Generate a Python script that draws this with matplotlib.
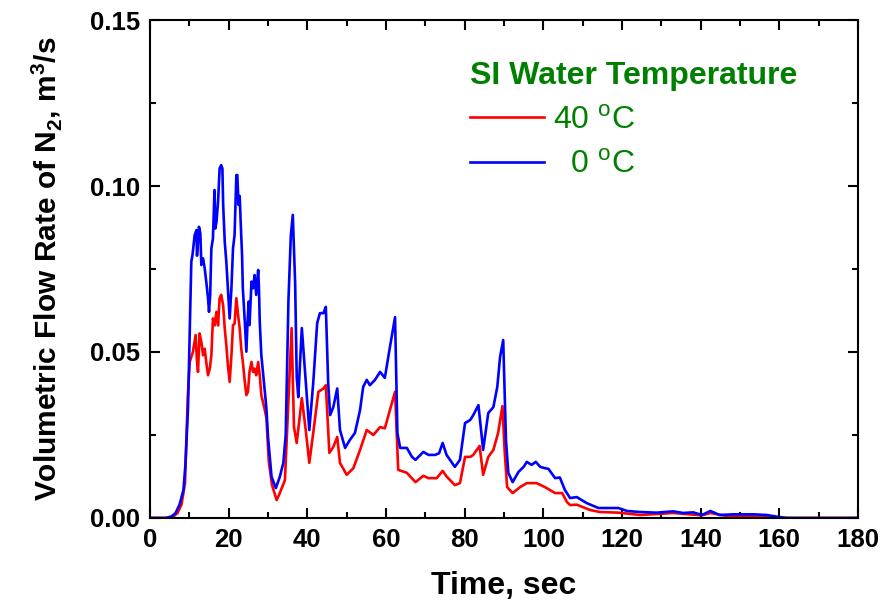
import matplotlib
matplotlib.use('Agg')
import matplotlib.pyplot as plt
from matplotlib.ticker import MultipleLocator, FormatStrFormatter

plt.rcParams['font.family'] = ['Liberation Sans', 'DejaVu Sans']
plt.rcParams['mathtext.fontset'] = 'custom'
plt.rcParams['mathtext.rm'] = 'Liberation Sans'
plt.rcParams['mathtext.bf'] = 'Liberation Sans:bold'

# N2 flow rate, SI water at 0 C (blue)
time_0c = [
    0, 4.0, 5.5, 6.5, 7.5, 8.5, 9.0, 9.66, 10.5, 10.8,
    11.35, 11.8, 11.95, 12.45, 12.8, 13.05, 13.5, 13.9, 14.3, 14.75,
    15.0, 15.3, 15.6, 16.0, 16.4, 16.6, 16.9, 17.3, 17.7, 18.1,
    18.4, 18.6, 19.0, 19.4, 19.8, 20.25, 20.7, 21.1, 21.5, 21.95,
    22.2, 22.5, 22.8, 23.05, 23.4, 23.6, 24.1, 24.5, 24.8, 25.1,
    25.3, 25.8, 26.2, 26.6, 27.0, 27.5, 27.7, 27.9, 28.3, 28.7,
    29.1, 29.6, 30.0, 30.9, 32.0, 33.0, 33.9, 34.5, 35.2, 35.8,
    36.3, 36.9, 37.3, 37.7, 38.6, 39.2, 40.5, 41.5, 42.5, 43.2,
    44.1, 44.7, 45.3, 45.8, 46.6, 47.6, 48.3, 49.6, 50.8, 52.1,
    53.4, 54.2, 55.1, 55.9, 57.2, 58.5, 59.7, 61.0, 62.3, 62.9,
    63.6, 65.3, 66.6, 67.5, 69.5, 70.8, 72.5, 73.5, 74.4, 75.4,
    77.5, 78.8, 80.1, 81.4, 82.2, 83.5, 84.7, 86.0, 87.3, 88.3,
    89.0, 89.8, 90.5, 91.1, 92.2, 93.7, 95.0, 95.8, 97.0, 98.1,
    99.2, 100.4, 101.3, 103.0, 104.2, 105.5, 106.8, 108.5, 111.0, 114.0,
    117.0, 119.1, 121.3, 124.6, 128.8, 133.0, 135.6, 138.1, 140.3, 142.5,
    144.8, 148.3, 153.4, 156.8, 159.3, 162.0, 180,
]
flow_0c = [
    0, 0, 0.0005, 0.0015, 0.004, 0.0084, 0.016, 0.033, 0.0772, 0.0792,
    0.0852, 0.0867, 0.079, 0.0877, 0.0857, 0.0762, 0.0782, 0.0752, 0.0712, 0.0662,
    0.0621, 0.0672, 0.0812, 0.0842, 0.0988, 0.0872, 0.0892, 0.0953, 0.1053, 0.1063,
    0.1053, 0.0943, 0.0832, 0.0772, 0.0692, 0.0601, 0.0692, 0.0812, 0.0852, 0.1033,
    0.1033, 0.0943, 0.097, 0.0892, 0.0792, 0.0692, 0.0591, 0.0501, 0.0591, 0.0652,
    0.0581, 0.0712, 0.0692, 0.0732, 0.0672, 0.0747, 0.0692, 0.0591, 0.0491, 0.0441,
    0.039, 0.033, 0.0244, 0.0124, 0.009, 0.0124, 0.0166, 0.025, 0.0657, 0.085,
    0.0913, 0.0708, 0.0425, 0.0364, 0.0572, 0.0476, 0.0265, 0.0407, 0.0587, 0.0617,
    0.0617, 0.0636, 0.0407, 0.031, 0.0334, 0.039, 0.0265, 0.0211, 0.0235, 0.0256,
    0.0325, 0.0395, 0.0416, 0.040, 0.0416, 0.044, 0.0422, 0.0515, 0.0605, 0.0256,
    0.0211, 0.0211, 0.0184, 0.0175, 0.0199, 0.019, 0.019, 0.0195, 0.0226, 0.019,
    0.0154, 0.0175, 0.0286, 0.0295, 0.031, 0.034, 0.0205, 0.0316, 0.0334, 0.0395,
    0.0485, 0.0536, 0.0235, 0.0136, 0.0108, 0.0139, 0.0154, 0.0169, 0.0160, 0.0169,
    0.0154, 0.015, 0.0148, 0.012, 0.0122, 0.0084, 0.006, 0.0063, 0.0045, 0.003,
    0.003, 0.003, 0.0021, 0.0018, 0.0016, 0.002, 0.0015, 0.0017, 0.0009, 0.0021,
    0.0009, 0.0011, 0.0011, 0.0009, 0.0004, 0.0, 0.0,
]

# N2 flow rate, SI water at 40 C (red)
time_40c = [
    0, 4.5, 6.0, 7.0, 8.0, 8.9, 9.2, 9.6, 10.1, 10.9,
    11.6, 11.9, 12.2, 12.6, 13.05, 13.5, 13.9, 14.3, 14.75, 15.2,
    15.6, 16.0, 16.4, 16.9, 17.3, 17.7, 18.1, 18.6, 19.0, 19.4,
    19.8, 20.25, 20.7, 21.1, 21.5, 21.95, 22.4, 22.8, 23.2, 23.6,
    24.1, 24.5, 24.9, 25.3, 25.8, 26.2, 26.6, 27.0, 27.5, 27.9,
    28.3, 28.7, 29.1, 29.6, 30.2, 31.0, 32.2, 33.0, 34.3, 35.2,
    36.0, 36.6, 37.3, 38.6, 39.5, 40.5, 41.5, 42.8, 44.1, 44.7,
    45.6, 46.6, 47.6, 48.3, 50.0, 51.7, 53.4, 55.1, 56.8, 58.5,
    59.7, 61.0, 62.3, 63.1, 65.3, 67.5, 69.5, 70.8, 72.9, 74.4,
    75.4, 77.5, 78.8, 80.1, 81.4, 82.2, 83.8, 84.7, 86.0, 87.3,
    88.5, 89.6, 90.2, 90.8, 92.2, 94.1, 95.8, 98.3, 100.4, 103.0,
    104.8, 106.0, 106.8, 108.5, 111.9, 114.4, 119.1, 124.6, 133.0, 140.3,
    142.5, 146.6, 153.4, 158.5, 180,
]
flow_40c = [
    0, 0, 0.0005, 0.0015, 0.004, 0.0105, 0.022, 0.0365, 0.047, 0.050,
    0.0551, 0.048, 0.044, 0.0556, 0.053, 0.049, 0.051, 0.047, 0.043, 0.045,
    0.049, 0.0601, 0.058, 0.0621, 0.058, 0.0662, 0.0672, 0.064, 0.0571, 0.0521,
    0.046, 0.041, 0.0491, 0.0581, 0.0585, 0.0662, 0.0611, 0.0571, 0.051, 0.047,
    0.041, 0.037, 0.038, 0.044, 0.047, 0.044, 0.045, 0.043, 0.047, 0.043,
    0.037, 0.035, 0.033, 0.030, 0.017, 0.010, 0.0054, 0.0075, 0.0114, 0.0355,
    0.0572, 0.0274, 0.0226, 0.0361, 0.0274, 0.0166, 0.0256, 0.038, 0.039, 0.040,
    0.0196, 0.0214, 0.0244, 0.0166, 0.013, 0.015, 0.0205, 0.0265, 0.025, 0.0274,
    0.027, 0.0325, 0.038, 0.0145, 0.0136, 0.0108, 0.0127, 0.012, 0.012, 0.0142,
    0.0125, 0.0099, 0.0105, 0.0184, 0.0184, 0.019, 0.0217, 0.013, 0.0184, 0.0205,
    0.0256, 0.0337, 0.0196, 0.0093, 0.0075, 0.0093, 0.0105, 0.0105, 0.0093, 0.0075,
    0.0075, 0.0048, 0.0039, 0.004, 0.0024, 0.0018, 0.0016, 0.0009, 0.0015, 0.0008,
    0.0015, 0.0006, 0.0005, 0.0, 0.0,
]

green = '#008000'

fig = plt.figure(figsize=(8.94, 6.03), dpi=100)
ax = fig.add_axes([0.1678, 0.141, 0.7919, 0.8258])

ax.plot(time_40c, flow_40c, color='#ff0000', lw=1.9, label='40 $^\\mathrm{o}$C')
ax.plot(time_0c, flow_0c, color='#0000ff', lw=1.9, label='  0 $^\\mathrm{o}$C')

ax.set_xlim(0, 180)
ax.set_ylim(0, 0.15)
ax.xaxis.set_major_locator(MultipleLocator(20))
ax.xaxis.set_minor_locator(MultipleLocator(10))
ax.yaxis.set_major_locator(MultipleLocator(0.05))
ax.yaxis.set_minor_locator(MultipleLocator(0.025))
ax.yaxis.set_major_formatter(FormatStrFormatter('%.2f'))

ax.tick_params(which='both', direction='in', top=True, right=True, width=1.5)
ax.tick_params(which='major', length=7, labelsize=18.5, pad=7)
ax.tick_params(which='minor', length=4)
for lab in ax.get_xticklabels() + ax.get_yticklabels():
    lab.set_fontweight('bold')
for sp in ax.spines.values():
    sp.set_linewidth(1.5)

ax.set_xlabel('Time, sec', fontsize=23, fontweight='bold', labelpad=14)
ax.set_ylabel('Volumetric Flow Rate of N$_\\mathbf{2}$, m$^\\mathbf{3}$/s',
              fontsize=21.5, fontweight='bold', labelpad=19)

leg = ax.legend(loc='upper left', bbox_to_anchor=(0.412, 0.975), frameon=False,
                fontsize=23, title='SI Water Temperature',
                title_fontproperties={'size': 23, 'weight': 'bold'},
                handlelength=2.3, handletextpad=0.3, labelspacing=0.45)
leg._legend_box.align = 'left'
leg.get_title().set_color(green)
for txt in leg.get_texts():
    txt.set_color(green)

fig.savefig('out.png', dpi=100)
